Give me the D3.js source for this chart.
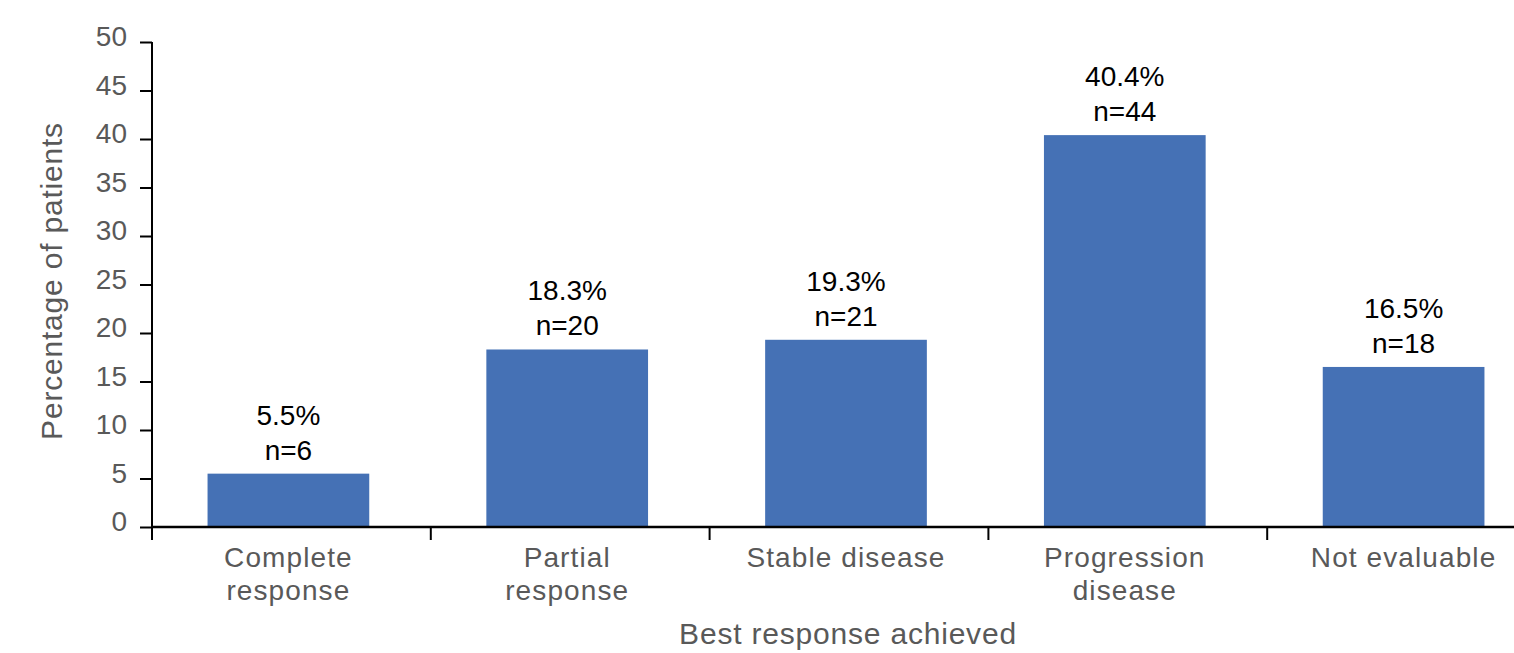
<!DOCTYPE html>
<html>
<head>
<meta charset="utf-8">
<script src="https://cdn.jsdelivr.net/npm/d3@7"></script>
<style>
  html, body { margin: 0; padding: 0; background: #fff; }
  svg { display: block; }
</style>
</head>
<body>
<svg id="chart" width="1514" height="653"></svg>
<script>
const categories = ["Complete response", "Partial response", "Stable disease", "Progression disease", "Not evaluable"];
const categoryLines = [["Complete", "response"], ["Partial", "response"], ["Stable disease"], ["Progression", "disease"], ["Not evaluable"]];
const percentages = [5.5, 18.3, 19.3, 40.4, 16.5];
const counts = [6, 20, 21, 44, 18];
const yTicks = [0, 5, 10, 15, 20, 25, 30, 35, 40, 45, 50];
const yTitle = "Percentage of patients";
const xTitle = "Best response achieved";

const svg = d3.select("#chart");
const plotLeft = 152, plotRight = 1546, plotTop = 42, plotBottom = 527;
const font = "'Liberation Sans', Arial, sans-serif";
const gray = "#595959";
const barColor = "#4571B5";

const x = d3.scaleBand().domain(categories).range([plotLeft, plotRight]).padding(0);
const y = d3.scaleLinear().domain([0, 50]).range([plotBottom, plotTop]);
const bw = x.bandwidth();
const barW = bw * 0.58;
const shift = -3;

// bars
svg.append("g").selectAll("rect").data(categories).join("rect")
  .attr("x", (d) => x(d) + (bw - barW) / 2 + shift)
  .attr("width", barW)
  .attr("y", (d, i) => y(percentages[i]))
  .attr("height", (d, i) => y(0) - y(percentages[i]))
  .attr("fill", barColor);

// y axis
const yAxis = svg.append("g").attr("transform", `translate(${plotLeft},0)`)
  .call(d3.axisLeft(y).tickValues(yTicks).tickSize(12).tickPadding(13).tickSizeOuter(0));
yAxis.select(".domain").remove();
yAxis.selectAll(".tick line").attr("stroke", "#000").attr("stroke-width", 2);
yAxis.selectAll(".tick text").attr("fill", gray).attr("font-family", font)
  .attr("font-size", 28).attr("dy", "0.14em");
svg.append("line").attr("x1", plotLeft).attr("x2", plotLeft).attr("y1", plotTop).attr("y2", plotBottom + 13)
  .attr("stroke", "#000").attr("stroke-width", 2);

// x axis
svg.append("line").attr("x1", plotLeft).attr("x2", plotRight).attr("y1", y(0)).attr("y2", y(0))
  .attr("stroke", "#000").attr("stroke-width", 2.5);
svg.append("g").selectAll("line").data(categories.slice(1)).join("line")
  .attr("x1", (d) => x(d)).attr("x2", (d) => x(d))
  .attr("y1", y(0)).attr("y2", y(0) + 13)
  .attr("stroke", "#000").attr("stroke-width", 2);

// category labels
const catG = svg.append("g").attr("font-family", font).attr("font-size", 28)
  .attr("fill", gray).attr("text-anchor", "middle").attr("letter-spacing", 1.1);
categories.forEach((c, i) => {
  const cx = x(c) + bw / 2 + shift;
  const t = catG.append("text").attr("x", cx).attr("y", y(0) + 40);
  categoryLines[i].forEach((ln, j) => {
    t.append("tspan").attr("x", cx).attr("dy", j === 0 ? 0 : 33).text(ln);
  });
});

// data labels
const lab = svg.append("g").attr("font-family", font).attr("font-size", 28)
  .attr("fill", "#000").attr("text-anchor", "middle");
categories.forEach((c, i) => {
  const cx = x(c) + bw / 2 + shift;
  const yt = y(percentages[i]);
  lab.append("text").attr("x", cx).attr("y", yt - 49).text(percentages[i].toFixed(1) + "%");
  lab.append("text").attr("x", cx).attr("y", yt - 14).text("n=" + counts[i]);
});

// axis titles
svg.append("text").attr("font-family", font).attr("font-size", 30).attr("fill", gray)
  .attr("letter-spacing", 0.8).attr("text-anchor", "middle")
  .attr("transform", `translate(62,${(123 + 439) / 2}) rotate(-90)`).text(yTitle);
svg.append("text").attr("font-family", font).attr("font-size", 30).attr("fill", gray)
  .attr("letter-spacing", 0.8).attr("text-anchor", "middle")
  .attr("x", 848).attr("y", 644).text(xTitle);
</script>
</body>
</html>
